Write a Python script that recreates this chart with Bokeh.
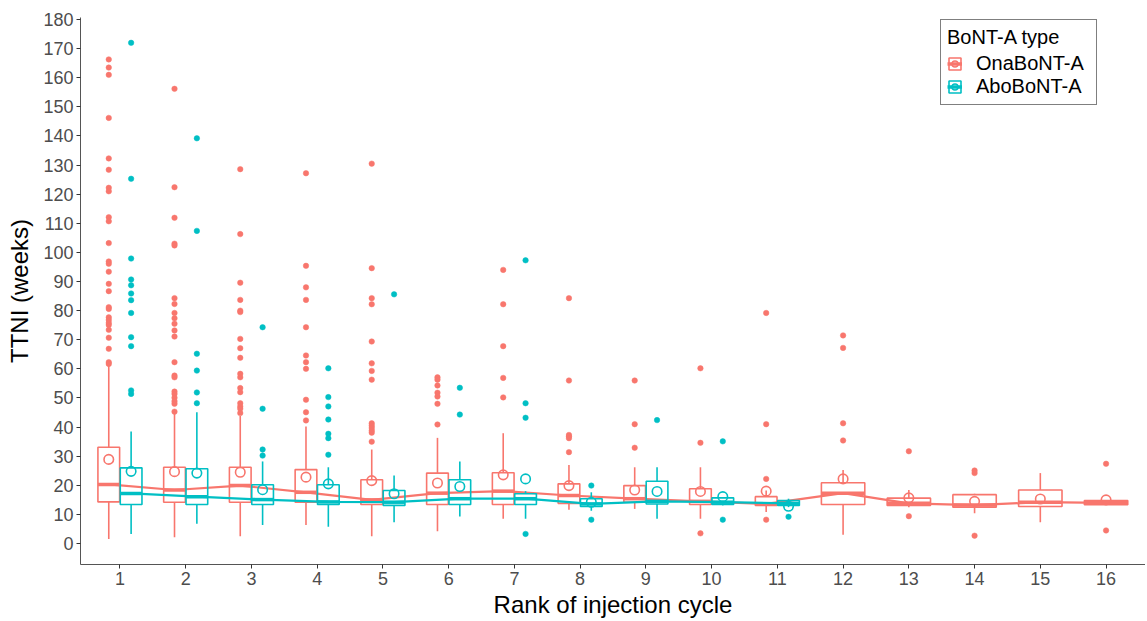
from bokeh.plotting import figure
from bokeh.models import Range1d, FixedTicker, Legend, LegendItem, ColumnDataSource
from bokeh.embed import file_html
from bokeh.resources import INLINE

# ---------------- data ----------------
ranks = list(range(1, 17))
groups = ["OnaBoNT-A", "AboBoNT-A"]

ona_lo   = [1.6, 2.2, 2.5, 6.4, 2.5, 4.2, 8.5, 11.6, 11.9, 8.5, 10.8, 3.0, 12.5, 10.4, 7.3, 13.3]
ona_q1   = [14.3, 14.2, 14.2, 14.2, 13.4, 13.4, 13.4, 13.8, 14.2, 13.4, 13.1, 13.4, 13.1, 12.5, 12.7, 13.3]
ona_med  = [20.3, 18.4, 19.9, 17.6, 15.0, 17.3, 18.0, 16.5, 15.4, 14.5, 13.6, 17.3, 13.8, 13.2, 14.2, 14.0]
ona_q3   = [33.1, 26.2, 26.2, 25.4, 21.9, 24.2, 24.3, 20.5, 19.9, 18.8, 16.1, 20.9, 15.6, 16.8, 18.4, 14.8]
ona_hi   = [61.0, 45.0, 43.8, 40.2, 32.3, 36.3, 37.9, 27.0, 26.2, 26.2, 18.2, 25.3, 18.4, 17.1, 24.2, 14.8]
ona_mean = [28.9, 24.7, 24.5, 22.8, 21.6, 20.8, 23.6, 19.9, 18.4, 17.9, 18.0, 22.2, 15.7, 14.5, 15.3, 15.0]
ona_out = [
    [166.3, 163.5, 161.0, 146.2, 132.3, 128.4, 122.2, 121.0, 112.1, 110.7, 103.2, 96.9, 96.1, 93.4,
     89.2, 86.7, 81.2, 80.6, 77.7, 76.8, 75.8, 75.1, 73.4, 70.7, 66.9, 62.3, 61.7],
    [156.2, 122.4, 111.9, 103.0, 102.4, 84.3, 82.3, 79.2, 77.4, 75.5, 73.2, 71.1, 62.3, 57.7, 57.1,
     52.2, 51.4, 50.1, 48.9, 48.0, 45.3],
    [128.6, 106.3, 89.6, 83.7, 80.0, 79.5, 70.3, 67.1, 63.8, 58.3, 57.1, 53.4, 52.0, 48.2, 47.1, 46.3, 44.8],
    [127.2, 95.4, 88.0, 83.7, 74.3, 64.6, 62.3, 60.0, 49.4, 45.1, 42.3],
    [130.5, 94.6, 84.3, 82.2, 69.4, 61.9, 59.3, 56.3, 41.3, 40.5, 39.7, 38.8, 38.1, 35.0],
    [57.1, 56.3, 54.3, 51.8, 50.5, 48.0, 40.9],
    [94.0, 82.2, 67.8, 56.9, 50.2],
    [84.3, 56.0, 37.3, 36.8, 36.2, 31.4],
    [56.0, 41.0, 32.9],
    [60.2, 34.6, 3.5],
    [79.2, 41.0, 22.2, 8.2],
    [71.5, 67.2, 41.3, 35.4],
    [31.7, 9.4],
    [25.1, 24.2, 2.7],
    [],
    [27.4, 4.5],
]

abo_ranks = list(range(1, 12))
abo_lo   = [3.3, 6.8, 6.4, 5.8, 7.3, 9.3, 8.5, 11.3, 8.5, 13.1, 12.5]
abo_q1   = [13.4, 13.4, 13.4, 13.4, 13.1, 13.4, 13.4, 12.7, 13.6, 13.4, 13.1]
abo_med  = [17.2, 16.1, 15.1, 14.3, 14.2, 15.4, 15.4, 13.6, 14.5, 14.2, 13.8]
abo_q3   = [26.0, 25.7, 20.2, 20.2, 18.2, 21.9, 17.1, 15.4, 21.4, 15.7, 14.8]
abo_hi   = [38.5, 45.1, 28.2, 26.2, 23.4, 28.2, 18.0, 17.6, 26.2, 15.9, 15.4]
abo_mean = [24.8, 24.2, 18.5, 20.5, 17.1, 19.6, 22.2, 14.2, 17.9, 16.1, 12.8]
abo_out = [
    [172.0, 125.3, 97.9, 90.7, 88.7, 85.9, 83.6, 79.2, 70.9, 67.8, 52.6, 51.4],
    [139.2, 107.4, 65.2, 59.4, 51.9, 48.2],
    [74.3, 46.3, 32.3, 30.2],
    [60.2, 50.3, 47.1, 42.6, 37.7, 36.2, 30.5],
    [85.6],
    [53.5, 44.3],
    [97.3, 48.2, 43.2, 3.3],
    [19.9, 8.2],
    [42.4],
    [35.1, 8.2],
    [9.2],
]

yticks = list(range(0, 181, 10))

# ---------------- styling ----------------
RED = "#F8766D"
TEAL = "#00BFC4"
FONT = "Liberation Sans"
DODGE = 0.17
HALF_W = 0.165

abo_set = set(abo_ranks)
ona_x = [r - DODGE if r in abo_set else r for r in ranks]
ona_hw = [HALF_W if r in abo_set else 2 * HALF_W for r in ranks]
abo_x = [r + DODGE for r in abo_ranks]
abo_hw = [HALF_W for _ in abo_ranks]

p = figure(width=1145, height=621, output_backend="svg", toolbar_location=None,
           x_range=Range1d(0.4, 16.6), y_range=Range1d(-7.2, 180.7),
           min_border_left=80, min_border_right=0, min_border_top=17, min_border_bottom=57)
p.outline_line_color = None
p.grid.visible = False
p.background_fill_color = "white"
p.border_fill_color = "white"

renders = {}
for name, col, xs, hws, lo, q1, med, q3, hi, mean, outs in [
    ("OnaBoNT-A", RED, ona_x, ona_hw, ona_lo, ona_q1, ona_med, ona_q3, ona_hi, ona_mean, ona_out),
    ("AboBoNT-A", TEAL, abo_x, abo_hw, abo_lo, abo_q1, abo_med, abo_q3, abo_hi, abo_mean, abo_out),
]:
    src = ColumnDataSource(dict(
        x=xs, left=[x - h for x, h in zip(xs, hws)], right=[x + h for x, h in zip(xs, hws)],
        lo=lo, q1=q1, med=med, q3=q3, hi=hi, mean=mean))
    p.segment(x0="x", y0="lo", x1="x", y1="q1", source=src, line_color=col, line_width=1.6)
    p.segment(x0="x", y0="q3", x1="x", y1="hi", source=src, line_color=col, line_width=1.6)
    box = p.quad(left="left", right="right", bottom="q1", top="q3", source=src,
                 fill_color=None, line_color=col, line_width=1.6)
    p.line(x="x", y="med", source=src, line_color=col, line_width=2.2)
    medr = p.segment(x0="left", y0="med", x1="right", y1="med", source=src,
                     line_color=col, line_width=3.5)
    meanr = p.scatter(x="x", y="mean", source=src, size=9.5, marker="circle",
                      fill_color=None, line_color=col, line_width=1.6)
    ox, oy = [], []
    for x, vals in zip(xs, outs):
        for v in vals:
            ox.append(x)
            oy.append(v)
    p.scatter(x=ox, y=oy, size=5.5, marker="circle", fill_color=col, line_color=col, line_width=0.5)
    renders[name] = [box, medr, meanr]

# axes
p.xaxis.ticker = FixedTicker(ticks=ranks)
p.yaxis.ticker = FixedTicker(ticks=yticks)
for ax in (p.xaxis, p.yaxis):
    ax.axis_line_color = "#555555"
    ax.axis_line_width = 1
    ax.major_tick_line_color = "#333333"
    ax.major_tick_out = 4
    ax.major_tick_in = 0
    ax.minor_tick_line_color = None
    ax.major_label_text_font = FONT
    ax.major_label_text_font_size = "18px"
    ax.major_label_text_color = "#4D4D4D"
    ax.axis_label_text_font = FONT
    ax.axis_label_text_font_size = "24px"
    ax.axis_label_text_font_style = "normal"
    ax.axis_label_text_color = "black"
p.xaxis.axis_label = "Rank of injection cycle"
p.yaxis.axis_label = "TTNI (weeks)"
p.xaxis.major_label_standoff = 3
p.yaxis.major_label_standoff = 3
p.xaxis.axis_label_standoff = 3
p.yaxis.axis_label_standoff = 7

legend = Legend(items=[LegendItem(label=g, renderers=renders[g]) for g in groups],
                location=(860, 459), title="BoNT-A type")
legend.title_text_font = FONT
legend.title_text_font_size = "20px"
legend.title_text_font_style = "normal"
legend.title_text_color = "black"
legend.title_standoff = 3
legend.label_text_font = FONT
legend.label_text_font_size = "20px"
legend.label_text_color = "black"
legend.glyph_width = 15
legend.glyph_height = 15
legend.label_standoff = 14
legend.label_width = 114
legend.spacing = 0
legend.padding = 6
legend.margin = 0
legend.label_height = 22
legend.border_line_color = "black"
legend.border_line_width = 1
legend.background_fill_color = "white"
p.add_layout(legend)

open("out.html", "w").write(file_html(p, INLINE))
